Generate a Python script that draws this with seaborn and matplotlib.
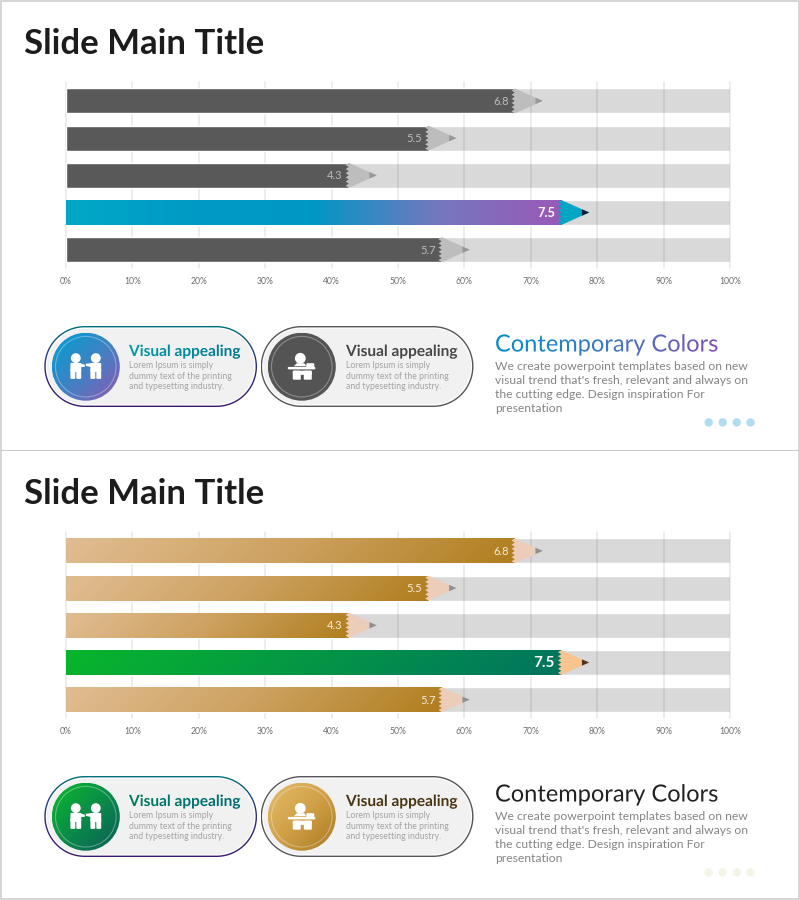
import numpy as np
import matplotlib
matplotlib.use("Agg")
import matplotlib.pyplot as plt
import seaborn as sns
from matplotlib.colors import LinearSegmentedColormap as LSC
from matplotlib.patches import FancyBboxPatch, Circle, Rectangle, Polygon
from matplotlib.patheffects import AbstractPathEffect
from matplotlib.transforms import Bbox

# ---- data ----
categories = ["Item 1", "Item 2", "Item 3", "Item 4", "Item 5"]
values = [6.8, 5.5, 4.3, 7.5, 5.7]
track = [10, 10, 10, 10, 10]
highlight = "Item 4"
tick_labels = ["0%", "10%", "20%", "30%", "40%", "50%", "60%", "70%", "80%", "90%", "100%"]
title_text = "Slide Main Title"
heading_text = "Contemporary Colors"
body_text = ("We create powerpoint templates based on new\n"
             "visual trend that's fresh, relevant and always on\n"
             "the cutting edge. Design inspiration For\n"
             "presentation")
card_title = "Visual appealing"
card_body = "Lorem Ipsum is simply\ndummy text of the printing\nand typesetting industry."

sns.set_theme(style="white")
FONT = "Lato"
plt.rcParams["font.family"] = [FONT, "DejaVu Sans"]

fig = plt.figure(figsize=(8, 9), dpi=100, facecolor="white")
ov = fig.add_axes([0, 0, 1, 1], zorder=0)
ov.set_xlim(0, 800)
ov.set_ylim(900, 0)
ov.axis("off")


class GradientFill(AbstractPathEffect):
    """Fills one text string with a left-to-right colour gradient."""
    def __init__(self, colors):
        super().__init__()
        self.cmap = LSC.from_list("g", colors)

    def draw_path(self, renderer, gc, tpath, affine, rgbFace=None):
        ext = affine.transform_path(tpath).get_extents()
        x0, x1 = np.floor(ext.x0), np.ceil(ext.x1)
        n = int(x1 - x0)
        for i in range(n):
            g = renderer.new_gc()
            g.copy_properties(gc)
            g.set_clip_rectangle(Bbox.from_extents(x0 + i, 0, x0 + i + 1, renderer.height))
            renderer.draw_path(g, tpath, affine, self.cmap(i / max(n - 1, 1))[:3])
            g.restore()


def grad_image(ax, extent, colors, kind, px, z, clip=None):
    """extent = x0, x1, ytop, ybottom in data units; px = pixel size w, h."""
    w, h = int(max(px[0], 2)), int(max(px[1], 2))
    xx, yy = np.meshgrid(np.arange(w), np.arange(h))
    if kind == "h":
        t = xx / (w - 1)
    elif kind == "v":
        t = yy / (h - 1)
    else:
        t = (xx + yy) / (w + h - 2)
    x0, x1, yt, yb = extent
    im = ax.imshow(t, cmap=LSC.from_list("g", colors), vmin=0, vmax=1, aspect="auto",
                   extent=(x0, x1, yb, yt), origin="upper", zorder=z, interpolation="bilinear")
    if clip is not None:
        im.set_clip_path(clip)
    return im


def chart(offset, theme):
    ax = fig.add_axes([66 / 800, 1 - (268.3 + offset) / 900, 664 / 800, 186 / 900], zorder=2)
    ax.patch.set_alpha(0)
    sns.barplot(x=track, y=categories, orient="h", color="#D9D9D9", saturation=1,
                width=0.67, ax=ax, zorder=1)
    palette = {c: (theme["hl"][0] if c == highlight else theme["bar"][0]) for c in categories}
    sns.barplot(x=values, y=categories, hue=categories, palette=palette, orient="h", saturation=1,
                width=0.67, ax=ax, zorder=3, legend=False)
    bars = ax.patches[5:10]
    for cat, val, b in zip(categories, values, bars):
        hl = cat == highlight
        y0, h = b.get_y(), b.get_height()
        joint = val - 0.04            # the wooden tip starts just before the value
        b.set_width(joint)
        pxw = joint / 10 * 664
        st = theme["hl"] if hl else theme["bar"]
        if st[1] is not None:
            grad_image(ax, (0, joint, y0, y0 + h), st[1], st[2], (pxw, 25), 3.1)
        # sharpened tip with jagged joint, derived from the value
        teeth = 6
        ys = np.linspace(y0 + h, y0, 2 * teeth + 1)
        xs = [joint - (0.05 if i % 2 else 0.0) for i in range(2 * teeth + 1)]
        tip = theme["hl_tip"] if hl else theme["tip"]
        pt = theme["hl_pt"] if hl else theme["pt"]
        ax.add_patch(Polygon(list(zip(xs, ys)) + [(val + 0.38, y0 + h / 2)], closed=True,
                             fc=tip, ec="none", zorder=4))
        ax.add_patch(Polygon([(val + 0.27, y0 + h / 2 - 0.085), (val + 0.27, y0 + h / 2 + 0.085),
                              (val + 0.38, y0 + h / 2)], closed=True, fc=pt, ec="none", zorder=4.1))
        fs = theme["hl_fs"] if hl else 8
        ax.text(val - 0.135, y0 + h / 2 + 0.01, f"{val:.1f}", ha="right", va="center", fontsize=fs,
                fontweight="bold" if hl else "normal",
                color="white" if hl else theme["lab"], zorder=5)
    ax.set_xlim(0, 10)
    ax.set_ylim(4.5, -0.5)
    ax.set_xticks(range(11))
    ax.set_xticklabels(tick_labels, fontsize=6.2, color="#6E6E6E")
    ax.set_yticks([])
    ax.set_xlabel("")
    ax.set_ylabel("")
    ax.set_axisbelow(False)
    ax.grid(axis="x", color="black", alpha=0.09, lw=1.1)
    for ln in ax.get_xgridlines():
        ln.set_zorder(2)
        ln.set_clip_on(False)
    ax.tick_params(axis="x", length=0, pad=6)
    sns.despine(ax=ax, left=True, bottom=True, top=True, right=True)
    return ax


def pill_shape(x0, x1, y0, y1, i, **k):
    r = (y1 - y0) / 2 - i
    cy = (y0 + y1) / 2
    th = np.linspace(-np.pi / 2, np.pi / 2, 80)
    right = np.column_stack([x1 - (y1 - y0) / 2 + r * np.cos(th), cy + r * np.sin(th)])
    left = np.column_stack([x0 + (y1 - y0) / 2 - r * np.cos(th[::-1]), cy + r * np.sin(th[::-1])])
    return Polygon(np.vstack([right, left]), closed=True, ec="none", **k)


def pill(x0, x1, y0, y1, colors, kind):
    outer = pill_shape(x0, x1, y0, y1, 0, fc="none")
    ov.add_patch(outer)
    grad_image(ov, (x0, x1, y0, y1), colors, kind, (x1 - x0, y1 - y0), 1, clip=outer)
    ov.add_patch(pill_shape(x0, x1, y0, y1, 1.4, fc="white", zorder=1.1))
    ov.add_patch(pill_shape(x0, x1, y0, y1, 2.6, fc="#F1F1F1", zorder=1.2))


def disc(cx, cy, colors):
    c = Circle((cx, cy), 34, fc="none", ec="none")
    ov.add_patch(c)
    grad_image(ov, (cx - 34, cx + 34, cy - 34, cy + 34), colors, "d", (68, 68), 2, clip=c)
    ov.add_patch(Circle((cx, cy), 30.3, fc="none", ec=(1, 1, 1, 0.32), lw=0.8, zorder=2.1))


def wr(x, y, w, h, z=2.2):
    ov.add_patch(FancyBboxPatch((x, y), w, h, boxstyle="round,pad=0,rounding_size=1",
                                fc="white", ec="none", zorder=z))


def people_icon(cx, cy):
    for s in (-1, 1):
        ov.add_patch(Circle((cx + s * 10, cy - 8.6), 4.9, fc="white", ec="none", zorder=2.2))
        wr(cx + s * 10 - 5.4, cy - 3.8, 10.8, 9)
        wr(cx + s * 10 - 5.4, cy + 2, 4.9, 10.2)
        wr(cx + s * 10 + 0.5, cy + 2, 4.9, 10.2)
    ov.add_patch(Polygon([(cx - 6, cy - 3.5), (cx - 1, cy - 2), (cx - 1, cy + 0.2), (cx - 6, cy + 0.5)],
                         fc="white", ec="none", zorder=2.2))
    ov.add_patch(Polygon([(cx + 6, cy - 3.5), (cx, cy - 3), (cx, cy - 0.8), (cx + 6, cy + 0.5)],
                         fc="white", ec="none", zorder=2.2))


def desk_icon(cx, cy):
    ov.add_patch(Circle((cx - 1.5, cy - 8.4), 5.4, fc="white", ec="none", zorder=2.2))
    ov.add_patch(Polygon([(cx - 8, cy - 0.5), (cx - 5, cy - 3.5), (cx + 2.5, cy - 3.5), (cx + 4.5, cy - 0.5)],
                         fc="white", ec="none", zorder=2.2))
    wr(cx + 4.5, cy - 3.5, 8, 5.6)
    wr(cx - 14, cy + 0.2, 27.5, 2.5)
    wr(cx - 9, cy + 4, 19, 4.2)
    wr(cx - 9, cy + 4, 8, 9)
    wr(cx + 2, cy + 4, 8, 9)


def panel(off, t):
    ov.text(24, off + 53.5, title_text, fontsize=25, fontweight="bold", color="#1C1C1C",
            ha="left", va="baseline", zorder=3)
    chart(off, t)

    y0, y1 = off + 326, off + 407
    pill(44.3, 257, y0, y1, ["#006F7C", "#2F2A78", "#3B1A6C"], "v")
    pill(260.7, 473.5, y0, y1, ["#565656", "#565656"], "v")
    disc(85.8, off + 366.7, t["disc1"])
    disc(301.8, off + 366.7, t["disc2"])
    people_icon(85.8, off + 366.7)
    desk_icon(301.8, off + 366.7)

    for x, cols in ((129, t["ct1"]), (346, t["ct2"])):
        ov.text(x, off + 356, card_title, fontsize=11.1, fontweight="bold", ha="left", va="baseline",
                color=cols[0], zorder=3, path_effects=[GradientFill(cols)])
        ov.text(x, off + 361, card_body, fontsize=6.2, color="#A3A3A3", ha="left", va="top",
                linespacing=1.24, zorder=3)

    ov.text(495, off + 351.5, heading_text, fontsize=17, ha="left", va="baseline", color=t["head"][0],
            zorder=3, path_effects=[GradientFill(t["head"])])
    ov.text(495, off + 361, body_text, fontsize=8.7, color="#858585", ha="left", va="top",
            linespacing=1.34, zorder=3)
    for x in (708.7, 722.7, 736.7, 750.5):
        ov.add_patch(Circle((x, off + 422.4), 4.2, fc=t["dot"], ec="none", zorder=3))


top_theme = dict(
    bar=("#595959", None, None), hl=("#00A5C8", ["#00A8C6", "#009AC6", "#0097C5", "#7478BE", "#9A59B8"], "h"),
    tip="#BDBDBD", pt="#989898", hl_tip="#00A6C4", hl_pt="#0B1B3A", lab="#BDBDBD", hl_fs=9.3,
    disc1=["#009FD2", "#3F83C4", "#8C58B4"], disc2=["#555555", "#555555"],
    ct1=["#009AA8", "#00778E"], ct2=["#474747", "#474747"], head=["#008CC8", "#3E78BE", "#7E4FB4"],
    dot="#B2DCF2")
bottom_theme = dict(
    bar=("#C8A060", ["#E0BD92", "#CDA160", "#B07E1E"], "d"), hl=("#07A040", ["#08B62C", "#007460"], "d"),
    tip="#EBCDB9", pt="#8F8F8F", hl_tip="#FAC491", hl_pt="#4A3520", lab="#F7EBDD", hl_fs=11,
    disc1=["#0CB82D", "#0A8C48", "#0B5C5A"], disc2=["#E4BC68", "#D0A048", "#A97A20"],
    ct1=["#007A62", "#006C72"], ct2=["#4A3512", "#4A3512"], head=["#222222", "#222222"],
    dot="#F3F5E6")

# slide frames
ov.add_patch(Rectangle((0.6, 0.6), 798.6, 898.6, fc="white", ec="#C9C9C9", lw=1.1, zorder=0.1))
ov.add_patch(Rectangle((0.6, 449.9), 798.6, 0.8, fc="#C9C9C9", ec="none", zorder=0.2))

panel(0, top_theme)
panel(450, bottom_theme)

fig.savefig("out.png", dpi=100)
